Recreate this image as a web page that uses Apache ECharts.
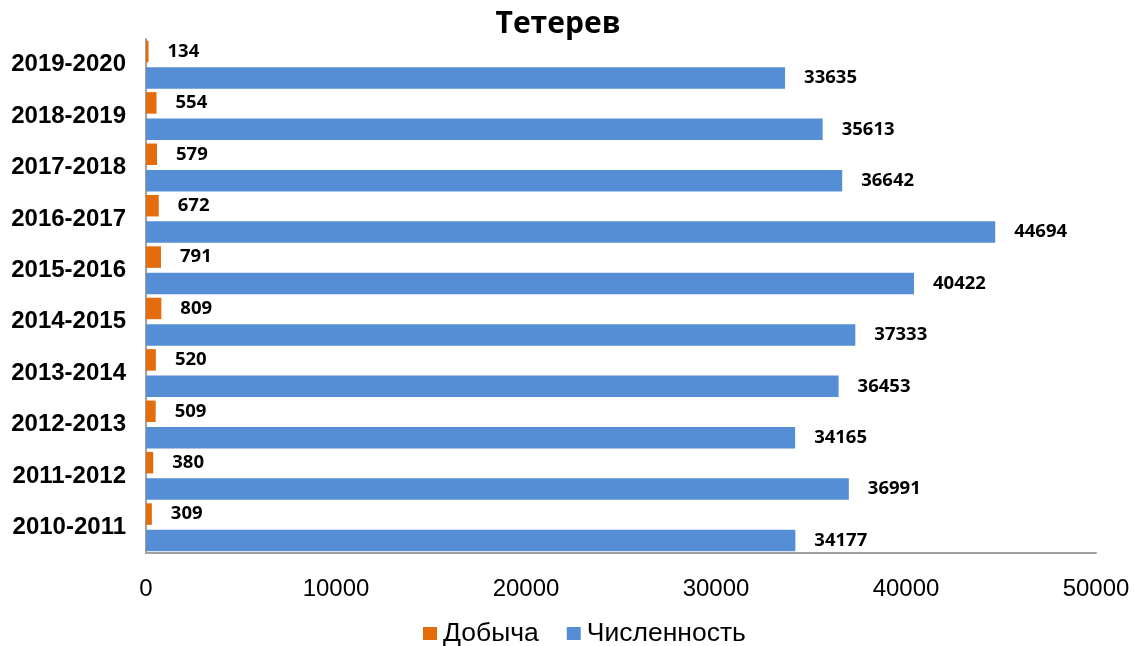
<!DOCTYPE html>
<html>
<head>
<meta charset="utf-8">
<script src="https://cdn.jsdelivr.net/npm/echarts@6/dist/echarts.min.js"></script>
<style>
  html, body { margin: 0; padding: 0; background: #ffffff; }
  #chart { width: 1134px; height: 646px; }
</style>
</head>
<body>
<div id="chart"></div>
<script>
// Seasons, bottom to top on the category axis
const seasons = ['2010-2011', '2011-2012', '2012-2013', '2013-2014', '2014-2015',
                 '2015-2016', '2016-2017', '2017-2018', '2018-2019', '2019-2020'];
// Harvest (Добыча) per season
const harvest = [309, 380, 509, 520, 809, 791, 672, 579, 554, 134];
// Population (Численность) per season
const population = [34177, 36991, 34165, 36453, 37333, 40422, 44694, 36642, 35613, 33635];
// Value axis ticks
const valueTicks = [0, 10000, 20000, 30000, 40000, 50000];

const chart = echarts.init(document.getElementById('chart'), null, { renderer: 'canvas' });

const labelStyle = {
  show: true,
  position: 'right',
  distance: 19,
  fontFamily: 'Open Sans',
  fontWeight: 'bold',
  fontSize: 18.5,
  color: '#000000'
};

chart.setOption({
  backgroundColor: '#ffffff',
  animation: false,
  title: {
    text: 'Тетерев',
    left: 553,
    top: 4,
    textAlign: 'center',
    textStyle: { fontFamily: 'Open Sans', fontWeight: 'bold', fontSize: 30, color: '#000000' }
  },
  legend: {
    data: ['Добыча', 'Численность'],
    left: 423,
    top: 620,
    padding: 0,
    icon: 'rect',
    itemWidth: 14,
    itemHeight: 13,
    itemGap: 28,
    textStyle: {
      fontFamily: 'Liberation Sans',
      fontSize: 26.5,
      lineHeight: 27,
      color: '#000000',
      padding: [0, 0, 0, 1]
    }
  },
  grid: { left: 146, right: 38, top: 39, bottom: 93, containLabel: false },
  xAxis: {
    type: 'value',
    min: valueTicks[0],
    max: valueTicks[valueTicks.length - 1],
    interval: valueTicks[1] - valueTicks[0],
    axisLine: { show: true, lineStyle: { color: '#a0a0a0', width: 2 } },
    axisTick: { show: false },
    splitLine: { show: false },
    axisLabel: {
      margin: 24,
      fontFamily: 'Liberation Sans',
      fontSize: 24,
      color: '#000000',
      formatter: function (v) { return String(v); }
    }
  },
  yAxis: {
    type: 'category',
    data: seasons,
    axisLine: { show: true, lineStyle: { color: '#a0a0a0', width: 2 } },
    axisTick: { show: false },
    axisLabel: { margin: 20, fontFamily: 'Liberation Sans', fontWeight: 'bold', fontSize: 24, color: '#000000' }
  },
  series: [
    {
      name: 'Добыча',
      type: 'bar',
      data: harvest,
      barWidth: 21.5,
      barGap: '23%',
      itemStyle: { color: '#e46c0a' },
      label: labelStyle
    },
    {
      name: 'Численность',
      type: 'bar',
      data: population,
      barWidth: 21.5,
      barGap: '23%',
      itemStyle: { color: '#558ed5' },
      label: labelStyle
    }
  ]
});
</script>
</body>
</html>
